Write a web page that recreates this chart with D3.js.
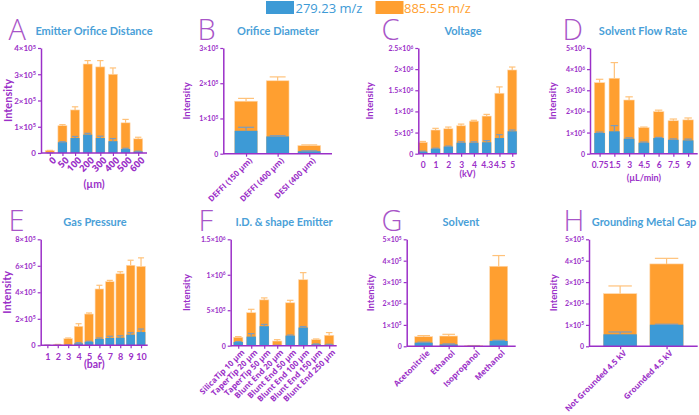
<!DOCTYPE html>
<html><head><meta charset="utf-8">
<script src="https://cdnjs.cloudflare.com/ajax/libs/d3/7.8.5/d3.min.js"></script>
<style>body{margin:0;background:#fff}svg{display:block}</style>
</head><body>
<svg id="c" width="699" height="415"></svg>
<script>
// ---------- DATA ----------
const seriesNames = ["279.23 m/z", "885.55 m/z"];

const aCats = ["0","50","100","200","300","400","500","600"];
const aBlue = [0.003e5,0.41e5,0.57e5,0.70e5,0.57e5,0.45e5,0.15e5,0.06e5];
const aBlueErr = [0.004e5,0.43e5,0.63e5,0.75e5,0.64e5,0.55e5,0.18e5,0.07e5];
const aTotal = [0.09e5,1.04e5,1.64e5,3.39e5,3.28e5,3.00e5,1.15e5,0.54e5];
const aTotalErr = [0.1e5,1.08e5,1.76e5,3.52e5,3.52e5,3.24e5,1.28e5,0.6e5];
const aTicks = [0,1e5,2e5,3e5,4e5];

const bCats = ["DEFFI (150 µm)","DEFFI (400 µm)","DESI (400 µm)"];
const bBlue = [0.65e5,0.49e5,0.07e5];
const bBlueErr = [0.75e5,0.51e5,0.08e5];
const bTotal = [1.49e5,2.07e5,0.23e5];
const bTotalErr = [1.57e5,2.18e5,0.25e5];
const bTicks = [0,1e5,2e5,3e5];

const cCats = ["0","1","2","3","4","4.3","4.5","5"];
const cBlue = [0.05e6,0.12e6,0.17e6,0.26e6,0.26e6,0.27e6,0.37e6,0.53e6];
const cBlueErr = [0.06e6,0.13e6,0.18e6,0.28e6,0.28e6,0.31e6,0.45e6,0.56e6];
const cTotal = [0.27e6,0.56e6,0.59e6,0.66e6,0.77e6,0.89e6,1.43e6,1.98e6];
const cTotalErr = [0.29e6,0.60e6,0.63e6,0.70e6,0.79e6,0.93e6,1.58e6,2.05e6];
const cTicks = [0,0.5e6,1e6,1.5e6,2e6,2.5e6];

const dCats = ["0.75","1.5","3","4.5","6","7.5","9"];
const dBlue = [0.98e6,1.06e6,0.71e6,0.52e6,0.74e6,0.66e6,0.63e6];
const dBlueErr = [1.02e6,1.33e6,0.75e6,0.55e6,0.77e6,0.70e6,0.69e6];
const dTotal = [3.36e6,3.57e6,2.54e6,1.23e6,1.99e6,1.56e6,1.60e6];
const dTotalErr = [3.52e6,4.31e6,2.69e6,1.26e6,2.06e6,1.64e6,1.69e6];
const dTicks = [0,1e6,2e6,3e6,4e6,5e6];

const eCats = ["1","2","3","4","5","6","7","8","9","10"];
const eBlue = [0,0.002e5,0.02e5,0.15e5,0.27e5,0.48e5,0.55e5,0.57e5,0.80e5,1.00e5];
const eBlueErr = [0,0.003e5,0.03e5,0.2e5,0.3e5,0.55e5,0.68e5,0.72e5,0.95e5,1.23e5];
const eTotal = [0.005e5,0.06e5,0.50e5,1.43e5,2.36e5,4.25e5,4.80e5,5.40e5,6.04e5,5.96e5];
const eTotalErr = [0.006e5,0.07e5,0.55e5,1.63e5,2.44e5,4.53e5,4.90e5,5.55e5,6.42e5,6.60e5];
const eTicks = [0,2e5,4e5,6e5,8e5];

const fCats = ["SilicaTip 10 µm","TaperTip 20 µm","TaperTip 50 µm","Blunt End 20 µm","Blunt End 50 µm","Blunt End 100 µm","Blunt End 150 µm","Blunt End 250 µm"];
const fBlue = [0.052e6,0.128e6,0.275e6,0.005e6,0.142e6,0.256e6,0.02e6,0.015e6];
const fBlueErr = [0.058e6,0.17e6,0.30e6,0.006e6,0.15e6,0.27e6,0.025e6,0.02e6];
const fTotal = [0.119e6,0.465e6,0.646e6,0.066e6,0.605e6,0.93e6,0.085e6,0.147e6];
const fTotalErr = [0.128e6,0.513e6,0.674e6,0.085e6,0.64e6,1.03e6,0.095e6,0.185e6];
const fTicks = [0,0.5e6,1e6,1.5e6];

const gCats = ["Acetonitrile","Ethanol","Isopropanol","Methanol"];
const gBlue = [0.17e5,0.09e5,0.002e5,0.25e5];
const gBlueErr = [0.19e5,0.11e5,0.003e5,0.28e5];
const gTotal = [0.45e5,0.48e5,0.03e5,3.74e5];
const gTotalErr = [0.5e5,0.56e5,0.035e5,4.24e5];
const gTicks = [0,1e5,2e5,3e5,4e5,5e5];

const hCats = ["Not Grounded 4.5 kV","Grounded 4.5 kV"];
const hBlue = [0.56e5,1.01e5];
const hBlueErr = [0.67e5,1.03e5];
const hTotal = [2.46e5,3.85e5];
const hTotalErr = [2.82e5,4.11e5];
const hTicks = [0,1e5,2e5,3e5,4e5,5e5];

// ---------- STYLE / LAYOUT ----------
const BLUE = "#3d9ad6", ORANGE = "#ff9f30", PURPLE = "#9b30c8", LETTER = "#a855c8", TITLE = "#4a9fd8";
const BLUE_ERR = "#7a9cc0", ORANGE_ERR = "#ffc27a";

const panels = [
 {L:"A", title:"Emitter Orifice Distance", cats:aCats, blue:aBlue, blueErr:aBlueErr, tot:aTotal, totErr:aTotalErr, ticks:aTicks,
  x0:41,x1:147,yT:48,yB:153, pad:0.7, rot:true, unit:"(µm)", unitY:188, lx:10, ly:40, tx:94, ty:35, iy:8, isz:11, tsz:8, xsz:9.5},
 {L:"B", title:"Orifice Diameter", cats:bCats, blue:bBlue, blueErr:bBlueErr, tot:bTotal, totErr:bTotalErr, ticks:bTicks,
  x0:223.3,x1:332,yT:48,yB:153.7, pad:0.72, rot:true, lx:199, ly:40, tx:278, ty:35, iy:187, isz:9.5, tsz:7, xsz:8},
 {L:"C", title:"Voltage", cats:cCats, blue:cBlue, blueErr:cBlueErr, tot:cTotal, totErr:cTotalErr, ticks:cTicks,
  x0:418.3,x1:516.7,yT:48,yB:153.7, pad:0.35, rot:false, unit:"(kV)", unitY:176.5, lx:383, ly:40, tx:463, ty:35, iy:370, isz:9.5, tsz:7, xsz:8.5},
 {L:"D", title:"Solvent Flow Rate", cats:dCats, blue:dBlue, blueErr:dBlueErr, tot:dTotal, totErr:dTotalErr, ticks:dTicks,
  x0:590,x1:697.7,yT:48,yB:153.7, pad:0.65, rot:false, unit:"(µL/min)", unitY:181, lx:564, ly:40, tx:643, ty:35, iy:553, isz:9.5, tsz:7, xsz:8.5},
 {L:"E", title:"Gas Pressure", cats:eCats, blue:eBlue, blueErr:eBlueErr, tot:eTotal, totErr:eTotalErr, ticks:eTicks,
  x0:40.7,x1:147.7,yT:239.3,yB:345.3, pad:0.64, rot:false, unit:"(bar)", unitY:368, lx:10, ly:231, tx:95, ty:226, iy:7, isz:11, tsz:7.5, xsz:9, bw:0.83},
 {L:"F", title:"I.D. & shape Emitter", cats:fCats, blue:fBlue, blueErr:fBlueErr, tot:fTotal, totErr:fTotalErr, ticks:fTicks,
  x0:230.7,x1:336.7,yT:239.3,yB:345.7, pad:0.58, rot:true, lx:200, ly:231, tx:284, ty:226, iy:187, isz:9.5, tsz:7, xsz:8},
 {L:"G", title:"Solvent", cats:gCats, blue:gBlue, blueErr:gBlueErr, tot:gTotal, totErr:gTotalErr, ticks:gTicks,
  x0:406.7,x1:515.7,yT:239.3,yB:346.3, pad:0.68, rot:true, lx:383, ly:231, tx:461, ty:226, iy:371, isz:9.5, tsz:7, xsz:8},
 {L:"H", title:"Grounding Metal Cap", cats:hCats, blue:hBlue, blueErr:hBlueErr, tot:hTotal, totErr:hTotalErr, ticks:hTicks,
  x0:589,x1:697.7,yT:239.3,yB:346.3, pad:0.67, rot:true, lx:565, ly:231, tx:644, ty:226, iy:554, isz:9.5, tsz:7, xsz:8}
];

function fmtTick(v){
  if (v===0) return ["0",""];
  const e = Math.floor(Math.log10(v)+1e-9);
  const m = +(v/Math.pow(10,e)).toFixed(2);
  return [m+"×10", String(e)];
}

const svg = d3.select("#c");
const FONT = "Lato, 'Open Sans', sans-serif";
const FONT2 = "'Open Sans', sans-serif";

// legend
const leg = svg.append("g");
[[BLUE,266,295.5,seriesNames[0]],[ORANGE,375.5,404,seriesNames[1]]].forEach(([c,rx,tx,t])=>{
  leg.append("rect").attr("x",rx).attr("y",1).attr("width",28).attr("height",13).attr("fill",c);
  leg.append("text").attr("x",tx).attr("y",12.5).attr("fill",c).attr("font-family",FONT2)
     .attr("font-size",13).text(t);
});

panels.forEach(p=>{
  const g = svg.append("g");
  const x = d3.scalePoint().domain(p.cats).range([p.x0,p.x1]).padding(p.pad);
  const y = d3.scaleLinear().domain([0,p.ticks[p.ticks.length-1]]).range([p.yB,p.yT]);
  const bw = x.step()*(p.bw||0.72);

  const eb = (vals, errs, col) => {
    g.selectAll(null).data(p.cats).enter().append("line")
      .attr("x1",d=>x(d)).attr("x2",d=>x(d))
      .attr("y1",(d,i)=>y(vals[i])).attr("y2",(d,i)=>y(errs[i]))
      .attr("stroke",col).attr("stroke-width",1.2);
    g.selectAll(null).data(p.cats).enter().append("line")
      .attr("x1",d=>x(d)-bw*0.35).attr("x2",d=>x(d)+bw*0.35)
      .attr("y1",(d,i)=>y(errs[i])).attr("y2",(d,i)=>y(errs[i]))
      .attr("stroke",col).attr("stroke-width",1.2);
  };
  g.selectAll(null).data(p.cats).enter().append("rect")
    .attr("x",d=>x(d)-bw/2).attr("width",bw)
    .attr("y",(d,i)=>y(p.tot[i])).attr("height",(d,i)=>p.yB-y(p.tot[i]))
    .attr("fill",ORANGE).attr("stroke","#ffd9b0").attr("stroke-width",0.6);
  eb(p.tot,p.totErr,ORANGE_ERR);
  g.selectAll(null).data(p.cats).enter().append("rect")
    .attr("x",d=>x(d)-bw/2).attr("width",bw)
    .attr("y",(d,i)=>y(p.blue[i])).attr("height",(d,i)=>p.yB-y(p.blue[i]))
    .attr("fill",BLUE);
  eb(p.blue,p.blueErr,BLUE_ERR);

  // y axis
  const ya = g.append("g").attr("transform",`translate(${p.x0},0)`)
    .call(d3.axisLeft(y).tickValues(p.ticks).tickSize(3).tickPadding(2).tickSizeOuter(0).tickFormat(""));
  ya.selectAll("path").attr("stroke",PURPLE).attr("stroke-width",1.5);
  ya.selectAll("line").attr("stroke",PURPLE).attr("stroke-width",1.2);
  ya.selectAll(".tick text").each(function(d){
    const [a,b] = fmtTick(d);
    const t = d3.select(this).text(null).attr("fill",PURPLE).attr("font-family",FONT)
      .attr("font-weight","bold").attr("font-size",p.tsz).attr("dy","0.35em");
    t.append("tspan").text(a);
    if (b) t.append("tspan").attr("font-size",p.tsz*0.7).attr("dy","-0.5em").text(b);
  });

  // x axis
  const xa = g.append("g").attr("transform",`translate(0,${p.yB})`)
    .call(d3.axisBottom(x).tickSize(3).tickPadding(3).tickSizeOuter(0));
  xa.select(".domain").attr("d",`M${p.x0},0H${p.x1}`).attr("stroke",PURPLE).attr("stroke-width",1.5);
  xa.selectAll("line").attr("stroke",PURPLE).attr("stroke-width",1.2);
  const xt = xa.selectAll(".tick text").attr("fill",PURPLE)
    .attr("font-weight","bold").attr("font-size",p.xsz);
  if (p.rot) xt.attr("font-family",FONT2).attr("text-anchor","end").attr("transform","rotate(-45)").attr("dx","-0.1em").attr("dy","0.45em");
  else xt.attr("font-family",FONT).attr("dy","0.95em");

  if (p.unit) g.append("text").attr("x",(p.x0+p.x1)/2).attr("y",p.unitY).attr("text-anchor","middle")
     .attr("fill",PURPLE).attr("font-family",FONT).attr("font-weight","bold").attr("font-size",p.isz*0.95).text(p.unit);

  g.append("text").attr("transform",`translate(${p.iy+p.isz*0.35},${(p.yT+p.yB)/2}) rotate(-90)`)
    .attr("text-anchor","middle").attr("fill",PURPLE).attr("font-family",FONT).attr("font-weight","bold")
    .attr("font-size",p.isz).text("Intensity");

  g.append("text").attr("x",p.tx).attr("y",p.ty).attr("text-anchor","middle").attr("fill",TITLE)
    .attr("font-family",FONT).attr("font-weight","bold").attr("font-size",11).text(p.title);

  g.append("text").attr("x",p.lx-1.5).attr("y",p.ly).attr("fill",LETTER).attr("font-family",FONT2)
    .attr("font-weight",300).attr("font-size",29).text(p.L);
});
</script>
</body></html>
